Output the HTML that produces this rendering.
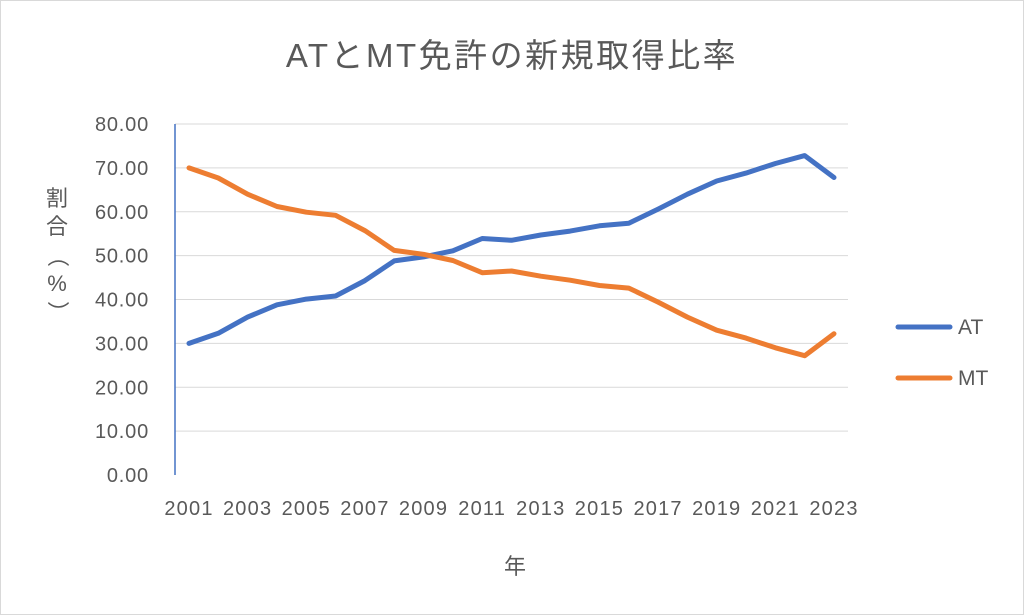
<!DOCTYPE html>
<html><head><meta charset="utf-8"><style>
body{margin:0;background:#fff}
svg{display:block;font-family:"Liberation Sans","Noto Sans CJK JP",sans-serif}
</style></head><body>
<svg id="s" width="1024" height="615" viewBox="0 0 1024 615">
<rect x="0.5" y="0.5" width="1023" height="614" fill="#fff" stroke="#d9d9d9"/>
<text x="512" y="67" text-anchor="middle" font-size="33" letter-spacing="2.5" fill="#595959">ATとMT免許の新規取得比率</text>
<g id="grid" stroke="#d9d9d9" stroke-width="1"></g>
<line x1="175" y1="124" x2="175" y2="475" stroke="#4472c4" stroke-width="1.5"/>
<g id="yl" font-size="20" letter-spacing="0.8" fill="#595959" text-anchor="end"></g>
<g id="xl" font-size="20" letter-spacing="1.2" fill="#595959" text-anchor="middle"></g>
<polyline id="at" fill="none" stroke="#4472c4" stroke-width="5" stroke-linejoin="round" stroke-linecap="round"/>
<polyline id="mt" fill="none" stroke="#ed7d31" stroke-width="5" stroke-linejoin="round" stroke-linecap="round"/>
<text x="515" y="574" text-anchor="middle" font-size="22" fill="#595959">年</text>
<g font-size="22" fill="#595959" text-anchor="middle">
<text x="57" y="206">割</text><text x="57" y="234">合</text>
<text x="57" y="263" transform="rotate(90 57 256)">（</text>
<text x="57" y="291">%</text>
<text x="57" y="319" transform="rotate(90 57 312)">）</text>
</g>
<line x1="898" y1="327" x2="950" y2="327" stroke="#4472c4" stroke-width="5" stroke-linecap="round"/>
<text x="958" y="334" font-size="21" fill="#595959">AT</text>
<line x1="898" y1="378" x2="950" y2="378" stroke="#ed7d31" stroke-width="5" stroke-linecap="round"/>
<text x="958" y="385" font-size="21" fill="#595959">MT</text>
</svg>
<script>
var NS="http://www.w3.org/2000/svg";
function el(p,t,a,tx){var e=document.createElementNS(NS,t);for(var k in a)e.setAttribute(k,a[k]);if(tx)e.textContent=tx;document.getElementById(p).appendChild(e);}
function Y(v){return 475-v*351/80;}
function X(i){return 189+i*645/22;}
for(var v=0;v<=80;v+=10){if(v>0)el("grid","line",{x1:175,x2:848,y1:Y(v),y2:Y(v)});el("yl","text",{x:149,y:Y(v)+7},v.toFixed(2));}
for(var i=0;i<=22;i+=2)el("xl","text",{x:X(i),y:515},String(2001+i));
var at=[30,32.3,36,38.8,40.1,40.8,44.3,48.8,49.7,51.1,53.9,53.5,54.7,55.6,56.8,57.4,60.6,64,67,68.8,71,72.8,67.8];
var mt=[70,67.7,64,61.2,59.9,59.2,55.7,51.2,50.3,48.9,46.1,46.5,45.3,44.4,43.2,42.6,39.4,36,33,31.2,29,27.2,32.2];
function pts(a){return a.map(function(v,i){return X(i).toFixed(1)+","+Y(v).toFixed(1)}).join(" ");}
document.getElementById("at").setAttribute("points",pts(at));
document.getElementById("mt").setAttribute("points",pts(mt));
</script>
</body></html>
